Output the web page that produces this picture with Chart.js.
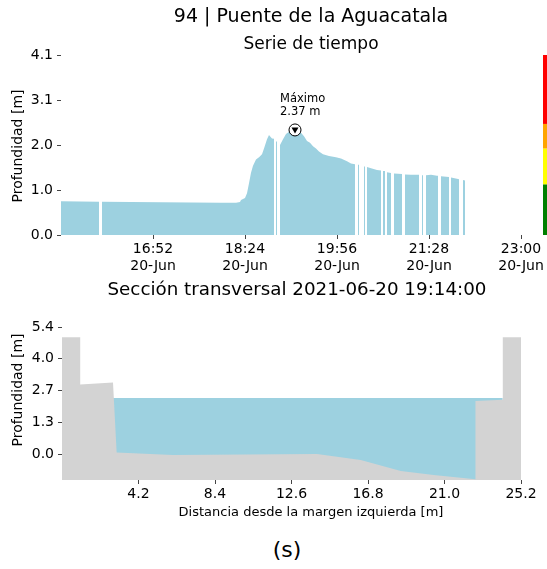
<!DOCTYPE html>
<html lang="es">
<head>
    <meta charset="UTF-8">
    <title>94 | Puente de la Aguacatala</title>
    <script src="https://cdn.jsdelivr.net/npm/chart.js"></script>
    <style>
        body {
            margin: 0;
            padding: 0;
            background-color: #fff;
            font-family: "DejaVu Sans", sans-serif;
            color: #000;
        }

        .lienzo {
            position: relative;
            width: 547px;
            height: 569px;
            overflow: hidden;
        }

        canvas {
            position: absolute;
            left: 0;
        }

        .texto {
            position: absolute;
            white-space: nowrap;
            transform: translate(-50%, -50%);
        }

        .vertical {
            transform: translate(-50%, -50%) rotate(-90deg);
        }
    </style>
</head>
<body>
    <div class="lienzo">
        <canvas id="serieChart" width="547" height="280" style="top: 0;"></canvas>
        <canvas id="seccionChart" width="547" height="245" style="top: 280px;"></canvas>

        <div class="texto" style="left: 311px; top: 15px; font-size: 19px;">94 | Puente de la Aguacatala</div>
        <div class="texto" style="left: 311px; top: 43px; font-size: 17px;">Serie de tiempo</div>
        <div class="texto vertical" style="left: 17px; top: 146px; font-size: 14px;">Profundidad [m]</div>
        <div class="texto" style="left: 297px; top: 288px; font-size: 18.3px;">Sección transversal 2021-06-20 19:14:00</div>
        <div class="texto vertical" style="left: 17px; top: 390px; font-size: 14px;">Profundidad [m]</div>
        <div class="texto" style="left: 311px; top: 511px; font-size: 13px;">Distancia desde la margen izquierda [m]</div>
        <div class="texto" style="left: 287px; top: 549px; font-size: 22px;">(s)</div>
    </div>

    <script>
        // serie de tiempo (20-Jun), null = sin dato
        const horas = [
            '15:20', '15:58', '15:59', '16:01', '16:30', '17:00', '17:30', '18:00', '18:15', '18:19',
            '18:20', '18:24', '18:26', '18:28', '18:30', '18:32', '18:35', '18:38', '18:41', '18:43',
            '18:46', '18:48', '18:49', '18:51', '18:53', '18:54', '18:55', '18:56', '18:57', '18:59',
            '19:02', '19:05', '19:08', '19:11', '19:14', '19:17', '19:20', '19:23', '19:26', '19:29',
            '19:32', '19:35', '19:38', '19:42', '19:48', '19:55', '20:00', '20:06', '20:10', '20:14',
            '20:15', '20:17', '20:18', '20:20', '20:23', '20:24', '20:25', '20:26', '20:30', '20:36',
            '20:40', '20:41', '20:42', '20:44', '20:45', '20:46', '20:50', '20:51', '20:53', '21:01',
            '21:02', '21:04', '21:10', '21:18', '21:19', '21:21', '21:22', '21:23', '21:25', '21:30',
            '21:36', '21:37', '21:38', '21:40', '21:48', '21:49', '21:50', '21:56', '21:58', '21:59',
            '22:02', '22:04'
        ];
        const profundidad = [
            0.77, 0.76, null, 0.76, 0.75, 0.745, 0.74, 0.735, 0.735, 0.75,
            0.80, 0.84, 0.95, 1.18, 1.42, 1.58, 1.72, 1.77, 1.84, 1.97,
            2.18, 2.28, 2.25, 2.20, 2.19, null, 2.13, 2.13, null, 2.05,
            2.18, 2.30, 2.35, 2.36, 2.37, 2.36, 2.33, 2.25, 2.14, 2.10,
            2.02, 1.97, 1.90, 1.84, 1.80, 1.77, 1.74, 1.68, 1.63, 1.61,
            null, 1.60, 1.60, null, 1.56, 1.56, null, 1.55, 1.52, 1.48,
            1.47, null, 1.46, 1.46, null, 1.43, 1.41, null, 1.40, 1.39,
            null, 1.38, 1.37, 1.37, null, 1.36, 1.36, null, 1.36, 1.37,
            1.35, 1.35, null, 1.34, 1.32, null, 1.31, 1.28, 1.27, null,
            1.25, 1.24
        ];
        const horaInicio = '15:20';
        const horaFin = '23:26';
        const horasEje = ['16:52', '18:24', '19:56', '21:28', '23:00'];
        const fechaEje = '20-Jun';
        const maxEjeSerie = 4.1;

        // niveles de alerta (barra de colores)
        const nivelLimites = [0, 1.155, 1.97, 2.53, 4.1];
        const nivelColores = ['#008000', '#ffff00', '#ffa500', '#ff0000'];

        // seccion transversal
        const terrenoX = [0, 1.0, 1.0, 2.8, 3.0, 6.1, 14.0, 16.4, 18.6, 20.4, 22.7, 22.7, 24.2, 24.2, 25.2];
        const terrenoY = [4.95, 4.95, 2.95, 3.03, 0.06, -0.04, 0.0, -0.25, -0.72, -0.89, -1.07, 2.25, 2.3, 4.95, 4.95];
        const aguaX = [2.8, 24.2];
        const horaSeccion = '19:14';
        const ticksDistancia = [4.2, 8.4, 12.6, 16.8, 21.0, 25.2];
        const minEjeSeccion = -1.1;
        const maxEjeSeccion = 5.38;

        const azul = '#9dd1e0';
        const gris = '#d3d3d3';
        const fuente = { family: 'DejaVu Sans', size: 14 };

        function aMinutos(h) {
            const p = h.split(':');
            return parseInt(p[0]) * 60 + parseInt(p[1]);
        }

        function aHora(m) {
            return String(Math.floor(m / 60)).padStart(2, '0') + ':' + String(m % 60).padStart(2, '0');
        }

        function ticksLineales(max) {
            return [0, 1, 2, 3, 4].map(i => ({ value: max * i / 4 }));
        }

        const ejeMarcas = {
            display: true,
            drawOnChartArea: false,
            drawTicks: true,
            tickLength: 4,
            color: '#444',
            lineWidth: 1
        };

        // maximo de la serie
        let iMax = 0;
        profundidad.forEach((v, i) => { if (v !== null && v > profundidad[iMax]) iMax = i; });
        const puntoMax = { x: aMinutos(horas[iMax]), y: profundidad[iMax] };

        const extrasSerie = {
            id: 'extrasSerie',
            afterDatasetsDraw(chart) {
                const { ctx, chartArea, scales: { x, y } } = chart;
                // barra de niveles
                for (let i = 0; i < nivelColores.length; i++) {
                    const yArriba = y.getPixelForValue(nivelLimites[i + 1]);
                    const yAbajo = y.getPixelForValue(nivelLimites[i]);
                    ctx.fillStyle = nivelColores[i];
                    ctx.fillRect(chartArea.right - 4, yArriba, 4, yAbajo - yArriba);
                }
                // marcador y texto del maximo
                const px = x.getPixelForValue(puntoMax.x);
                const py = y.getPixelForValue(puntoMax.y) - 1;
                ctx.save();
                ctx.beginPath();
                ctx.arc(px, py, 6, 0, Math.PI * 2);
                ctx.fillStyle = '#fff';
                ctx.fill();
                ctx.lineWidth = 1;
                ctx.strokeStyle = '#000';
                ctx.stroke();
                ctx.beginPath();
                ctx.moveTo(px - 3.5, py - 2.5);
                ctx.lineTo(px + 3.5, py - 2.5);
                ctx.lineTo(px, py + 3.5);
                ctx.closePath();
                ctx.fillStyle = '#000';
                ctx.fill();
                ctx.font = '11.5px "DejaVu Sans"';
                ctx.textAlign = 'left';
                ctx.textBaseline = 'middle';
                ctx.fillText('Máximo', px - 15, py - 31);
                ctx.fillText(puntoMax.y.toFixed(2) + ' m', px - 15, py - 18);
                ctx.restore();
            }
        };

        new Chart(document.getElementById('serieChart'), {
            type: 'line',
            data: {
                datasets: [
                    {
                        data: horas.map((h, i) => ({ x: aMinutos(h), y: profundidad[i] })),
                        backgroundColor: azul,
                        borderWidth: 0,
                        pointRadius: 0,
                        fill: 'origin',
                        spanGaps: false,
                        tension: 0
                    }
                ]
            },
            options: {
                responsive: false,
                animation: false,
                devicePixelRatio: 1,
                layout: { padding: { top: 55, left: 0, right: 0, bottom: 0 } },
                plugins: { legend: { display: false }, tooltip: { enabled: false } },
                scales: {
                    x: {
                        type: 'linear',
                        min: aMinutos(horaInicio),
                        max: aMinutos(horaFin),
                        grid: ejeMarcas,
                        border: { display: false },
                        afterBuildTicks: scale => { scale.ticks = horasEje.map(h => ({ value: aMinutos(h) })); },
                        afterFit: scale => { scale.height = 45; scale.paddingLeft = 0; scale.paddingRight = 0; },
                        ticks: {
                            font: { family: 'DejaVu Sans', size: 14, lineHeight: 1.2 },
                            color: '#000',
                            padding: 2,
                            maxRotation: 0,
                            autoSkip: false,
                            callback: v => [aHora(v), fechaEje]
                        }
                    },
                    y: {
                        min: 0,
                        max: maxEjeSerie,
                        grid: ejeMarcas,
                        border: { display: false },
                        afterBuildTicks: scale => { scale.ticks = ticksLineales(maxEjeSerie); },
                        afterFit: scale => { scale.width = 61; scale.paddingTop = 0; scale.paddingBottom = 0; },
                        ticks: {
                            font: fuente,
                            color: '#000',
                            padding: 4,
                            callback: v => v.toFixed(1)
                        }
                    }
                }
            },
            plugins: [extrasSerie]
        });

        const nivelAgua = profundidad[horas.indexOf(horaSeccion)];

        new Chart(document.getElementById('seccionChart'), {
            type: 'line',
            data: {
                datasets: [
                    {
                        data: terrenoX.map((v, i) => ({ x: v, y: terrenoY[i] })),
                        backgroundColor: gris,
                        borderWidth: 0,
                        pointRadius: 0,
                        fill: 'start',
                        tension: 0,
                        order: 1
                    },
                    {
                        data: aguaX.map(v => ({ x: v, y: nivelAgua })),
                        backgroundColor: azul,
                        borderWidth: 0,
                        pointRadius: 0,
                        fill: 'start',
                        tension: 0,
                        order: 2
                    }
                ]
            },
            options: {
                responsive: false,
                animation: false,
                devicePixelRatio: 1,
                layout: { padding: { top: 47, left: 0, right: 26, bottom: 0 } },
                plugins: { legend: { display: false }, tooltip: { enabled: false } },
                scales: {
                    x: {
                        type: 'linear',
                        min: 0,
                        max: 25.2,
                        grid: ejeMarcas,
                        border: { display: false },
                        afterBuildTicks: scale => { scale.ticks = ticksDistancia.map(v => ({ value: v })); },
                        afterFit: scale => { scale.height = 45; scale.paddingLeft = 0; scale.paddingRight = 0; },
                        ticks: {
                            font: fuente,
                            color: '#000',
                            padding: 2,
                            maxRotation: 0,
                            autoSkip: false,
                            callback: v => v.toFixed(1)
                        }
                    },
                    y: {
                        min: minEjeSeccion,
                        max: maxEjeSeccion,
                        grid: ejeMarcas,
                        border: { display: false },
                        afterBuildTicks: scale => { scale.ticks = ticksLineales(maxEjeSeccion); },
                        afterFit: scale => { scale.width = 62; scale.paddingTop = 0; scale.paddingBottom = 0; },
                        ticks: {
                            font: fuente,
                            color: '#000',
                            padding: 4,
                            callback: v => v.toFixed(1)
                        }
                    }
                }
            }
        });
    </script>
</body>
</html>
